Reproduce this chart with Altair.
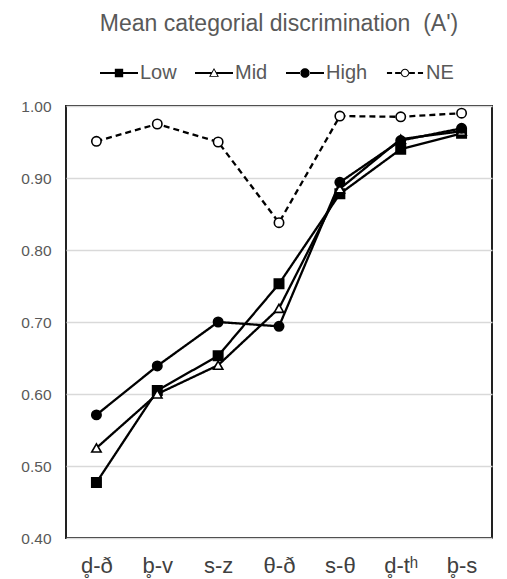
import altair as alt
import pandas as pd

categories = ["d\u0325-ð", "b\u0325-v", "s-z", "θ-ð", "s-θ", "d\u0325-t\u02b0", "b\u0325-s"]
series = ["Low", "Mid", "High", "NE"]
low = [0.477, 0.605, 0.653, 0.753, 0.878, 0.940, 0.962]
mid = [0.525, 0.600, 0.640, 0.719, 0.885, 0.954, 0.965]
high = [0.571, 0.639, 0.700, 0.694, 0.894, 0.952, 0.969]
ne = [0.951, 0.975, 0.950, 0.838, 0.986, 0.985, 0.990]
y_ticks = [0.4, 0.5, 0.6, 0.7, 0.8, 0.9, 1.0]

marker_shapes = ["square", "triangle-up", "circle", "circle"]
marker_fills = ["black", "white", "black", "white"]
line_dashes = [[1, 0], [1, 0], [1, 0], [6, 4]]

rows = []
for name, vals in zip(series, [low, mid, high, ne]):
    for i, (c, v) in enumerate(zip(categories, vals)):
        rows.append({"cat": c, "idx": i, "series": name, "value": v})
df = pd.DataFrame(rows)

FONT = "Liberation Sans"

x_enc = alt.X("cat:N", sort=categories, scale=alt.Scale(type="point", padding=0.5),
              axis=alt.Axis(title=None, labelAngle=0, labelFontSize=22, labelColor="#404040",
                            labelFont=FONT, ticks=False, domain=False, grid=False, labelPadding=17))
y_enc = alt.Y("value:Q", scale=alt.Scale(domain=[0.4, 1.0], nice=False, zero=False),
              axis=alt.Axis(title=None, values=y_ticks, format=".2f", labelFontSize=15.5,
                            labelColor="#595959", labelFont=FONT, ticks=False, domain=False,
                            grid=True, gridColor="#d9d9d9", gridWidth=1.3, labelPadding=15))

base = alt.Chart(df)

layers = []
for name, dash in zip(series, line_dashes):
    layers.append(
        base.transform_filter(alt.datum.series == name).mark_line(
            strokeWidth=2.3, color="black", strokeDash=dash
        ).encode(x=x_enc, y=y_enc, order=alt.Order("idx:Q"))
    )
for name, shp, fl in zip(series, marker_shapes, marker_fills):
    layers.append(
        base.transform_filter(alt.datum.series == name).mark_point(
            size=88, shape=shp, fill=fl, filled=True, stroke="black", strokeWidth=1.6, opacity=1
        ).encode(x=x_enc, y=y_enc)
    )

# legend symbols drawn as filled outlines (line segments as thin bars)
t = 0.052
def bar(a, b):
    return f"M{a},{-t}H{b}V{t}H{a}Z"

def ring(r, ri):
    return (f"M{-r},0A{r},{r} 0 1,0 {r},0A{r},{r} 0 1,0 {-r},0Z"
            f"M{-ri},0A{ri},{ri} 0 1,1 {ri},0A{ri},{ri} 0 1,1 {-ri},0Z")

def disc(r):
    return f"M{-r},0A{r},{r} 0 1,0 {r},0A{r},{r} 0 1,0 {-r},0Z"

sq = bar(-1, -0.2) + "M-0.22,-0.22H0.22V0.22H-0.22Z" + bar(0.2, 1)
tri = (bar(-1, -0.13) + "M-0.26,0.2L0,-0.26L0.26,0.2Z"
       + "M-0.175,0.155L0.175,0.155L0,-0.17Z" + bar(0.13, 1))
circ = bar(-1, -0.22) + disc(0.25) + bar(0.22, 1)
necirc = (bar(-0.95, -0.68) + bar(-0.52, -0.2) + ring(0.22, 0.165)
          + bar(0.2, 0.52) + bar(0.68, 0.95))

legend_layer = base.mark_point(
    size=0, strokeWidth=0, opacity=1, filled=True
).encode(
    x=x_enc, y=y_enc,
    shape=alt.Shape("series:N", sort=series, scale=alt.Scale(domain=series, range=[sq, tri, circ, necirc]),
                    legend=alt.Legend(title=None, orient="none", legendX=34, legendY=-52,
                                      direction="horizontal", symbolSize=1444,
                                      symbolStrokeWidth=0,
                                      labelFontSize=20, labelColor="#595959", labelFont=FONT,
                                      labelOffset=2, columnPadding=18)),
    fill=alt.Fill("series:N", sort=series, scale=alt.Scale(domain=series, range=["black"] * 4)),
)
layers.append(legend_layer)

chart = alt.layer(*layers).properties(
    width=426, height=432,
    title=alt.TitleParams("Mean categorial discrimination\u00a0 (A')", fontSize=23, font=FONT,
                          fontWeight="normal", color="#595959", anchor="middle", offset=18),
    autosize=alt.AutoSizeParams(type="none"),
    padding={"left": 66, "top": 106, "right": 15, "bottom": 41},
).configure(background="white").configure_view(stroke="#222222", strokeWidth=2)

chart.save("out.html", embed_options={"renderer": "svg", "actions": False})
